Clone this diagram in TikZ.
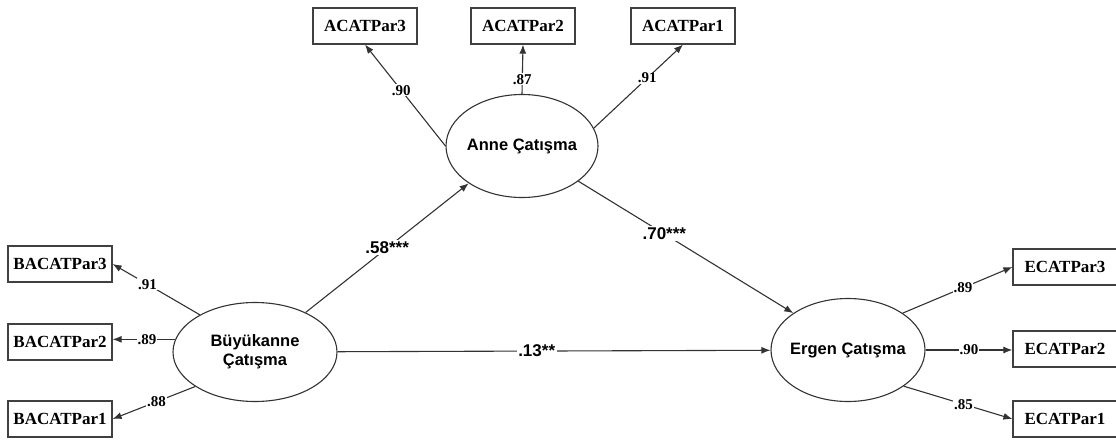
\documentclass[tikz,border=0pt]{standalone}
\usepackage{fontspec}
\setmainfont{Liberation Serif}
\setsansfont{Liberation Sans}
\usetikzlibrary{shapes.geometric,arrows.meta}

\begin{document}
\begin{tikzpicture}[x=1pt, y=-1pt,
  latent/.style={ellipse, draw=black!80, line width=1.1pt, minimum width=154pt, minimum height=103pt, inner sep=0pt},
  lattext/.style={font=\sffamily\bfseries\fontsize{16.5}{19}\selectfont, align=center, inner sep=0pt},
  obs/.style={rectangle, draw=black!75, line width=1.2pt, minimum width=104pt, minimum height=36pt, inner sep=0pt, font=\bfseries\fontsize{17}{18}\selectfont},
  path/.style={line width=1.1pt, draw=black!80, -{Latex[length=9pt,width=7pt]}},
  load/.style={font=\bfseries\fontsize{15}{16}\selectfont, fill=white, inner sep=1pt},
  coef/.style={font=\sffamily\bfseries\fontsize{17}{18}\selectfont, fill=white, inner sep=1.5pt}]
\useasboundingbox (0,0) rectangle (1116,439);

% Latent variables
\node[latent, minimum width=164pt, minimum height=99pt] (buyuk) at (255,352) {};
\node[lattext] (buyuktxt) at (buyuk) {Büyükanne\\Çatışma};
\node[latent, minimum width=152pt] (anne) at (522,146) {};
\node[lattext] (annetxt) at (anne) {Anne Çatışma};
\node[latent] (ergen) at (848,350) {};
\node[lattext] (ergentxt) at (ergen) {Ergen Çatışma};

% Grandmother indicators
\node[obs] (bacat3) at (60,264) {BACATPar3};
\node[obs] (bacat2) at (60,342) {BACATPar2};
\node[obs] (bacat1) at (60,419) {BACATPar1};
\draw[path] (buyuk.146) -- (bacat3.east) node[load, pos=0.6] (l91b) {.91};
\draw[path] (buyuk.171) -- (bacat2.east |- buyuk.171) node[load, pos=0.45] (l89b) {.89};
\draw[path] (buyuk.210) -- (bacat1.east) node[load, pos=0.47] (l88b) {.88};

% Mother indicators
\node[obs] (acat3) at (365,26) {ACATPar3};
\node[obs] (acat2) at (523,26) {ACATPar2};
\node[obs] (acat1) at (683,26) {ACATPar1};
\draw[path] (anne.west) -- (acat3.south) node[load, pos=0.55] (l90a) {.90};
\draw[path] (anne.north) -- (acat2.south) node[load, pos=0.3] (l87a) {.87};
\draw[path] (anne.14) -- (acat1.south) node[load, pos=0.6] (l91a) {.91};

% Adolescent indicators
\node[obs] (ecat3) at (1065,267) {ECATPar3};
\node[obs] (ecat2) at (1065,349) {ECATPar2};
\node[obs] (ecat1) at (1065,419) {ECATPar1};
\draw[path] (ergen.34) -- (ecat3.west) node[load, pos=0.55] (l89e) {.89};
\draw[path] (ergen.east) -- (ecat2.west |- ergen.east) node[load, midway] (l90e) {.90};
\draw[path] (ergen.327) -- (ecat1.west) node[load, pos=0.55] (l85e) {.85};

% Structural paths
\draw[path] (buyuk.38) -- (anne.215) node[coef, midway] (c58) {.58***};
\draw[path] (anne.328) -- (ergen.146) node[coef, pos=0.4] (c70) {.70***};
\draw[path] (buyuk) -- (ergen) node[coef, pos=0.46] (c13) {.13**};
\end{tikzpicture}
\end{document}
